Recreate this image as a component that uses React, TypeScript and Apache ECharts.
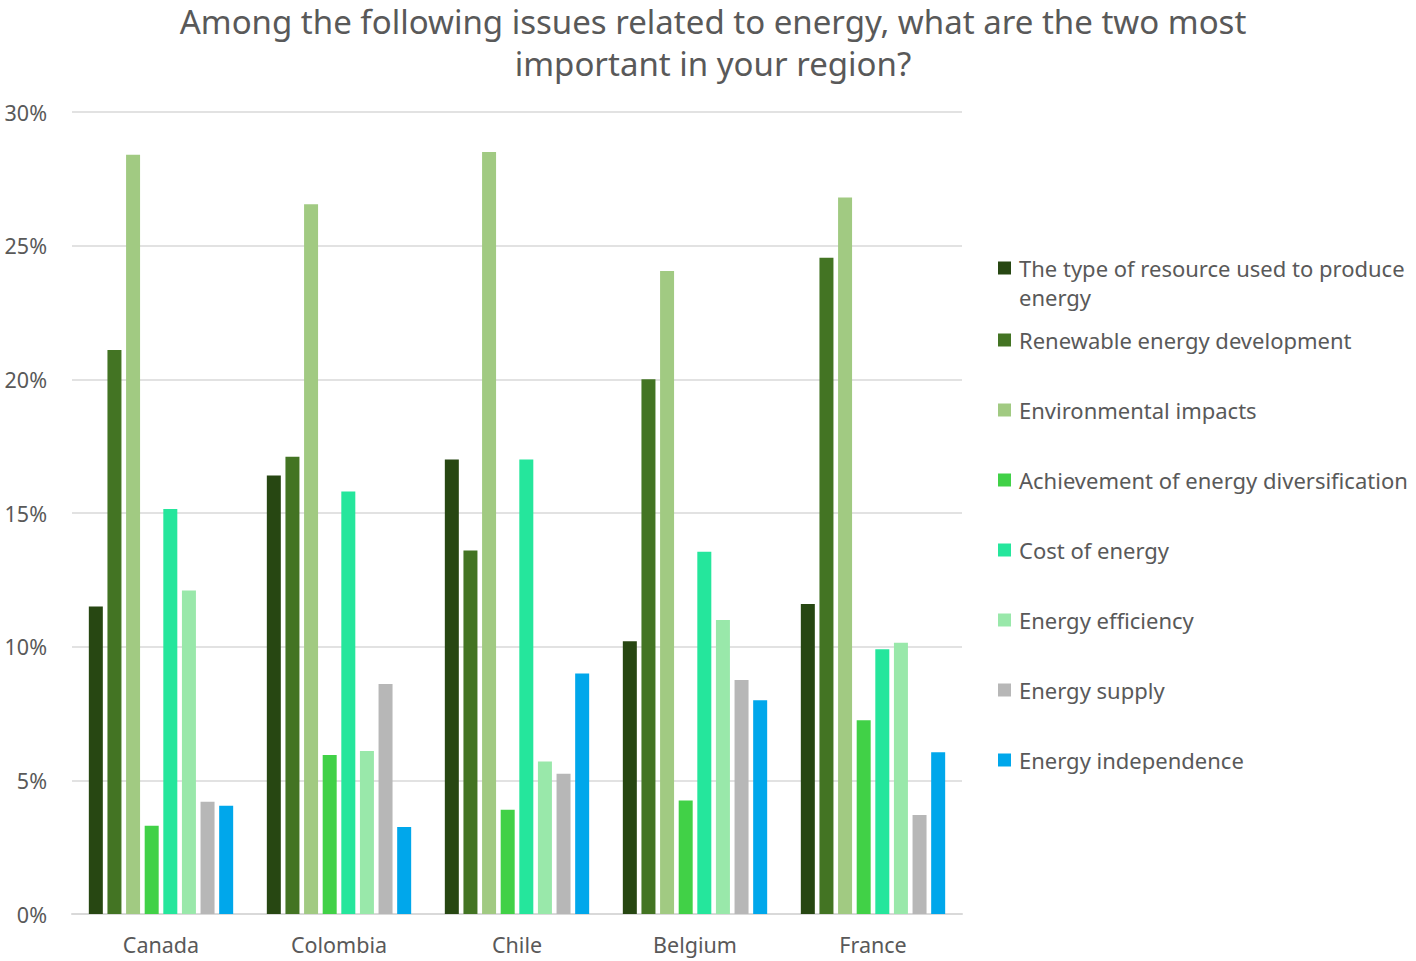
import React, { useEffect, useRef } from "react";
import * as echarts from "echarts";

const categories = ["Canada", "Colombia", "Chile", "Belgium", "France"];

const seriesNames = [
  "The type of resource used to produce energy",
  "Renewable energy development",
  "Environmental impacts",
  "Achievement of energy diversification",
  "Cost of energy",
  "Energy efficiency",
  "Energy supply",
  "Energy independence",
];

const resourceType = [11.5, 16.4, 17.0, 10.2, 11.6];
const renewable = [21.1, 17.1, 13.6, 20.0, 24.55];
const environmental = [28.4, 26.55, 28.5, 24.05, 26.8];
const diversification = [3.3, 5.95, 3.9, 4.25, 7.25];
const cost = [15.15, 15.8, 17.0, 13.55, 9.9];
const efficiency = [12.1, 6.1, 5.7, 11.0, 10.15];
const supply = [4.2, 8.6, 5.25, 8.75, 3.7];
const independence = [4.05, 3.25, 9.0, 8.0, 6.05];

const seriesValues = [
  resourceType,
  renewable,
  environmental,
  diversification,
  cost,
  efficiency,
  supply,
  independence,
];

const colors = [
  "#274712",
  "#437423",
  "#A1CA82",
  "#41D147",
  "#25E69C",
  "#99E8AA",
  "#B7B7B7",
  "#00A7EB",
];

const yTicks = { min: 0, max: 30, interval: 5 };

const titleText =
  "Among the following issues related to energy, what are the two most\nimportant in your region?";

const FONT = "'Noto Sans', 'Open Sans', sans-serif";
const TEXT_COLOR = "#595959";

export default function App() {
  const ref = useRef<HTMLDivElement>(null);

  useEffect(() => {
    if (!ref.current) return;
    const chart = echarts.init(ref.current, undefined, { renderer: "svg" });

    const legendText = {
      fontFamily: FONT,
      fontSize: 22,
      color: TEXT_COLOR,
      lineHeight: 29,
      padding: [0, 0, 0, 3],
    };

    chart.setOption({
      animation: false,
      backgroundColor: "#ffffff",
      color: colors,
      title: {
        text: titleText,
        left: 713,
        top: 0,
        textAlign: "center",
        padding: 0,
        textStyle: {
          fontFamily: FONT,
          fontSize: 33,
          fontWeight: "normal",
          color: TEXT_COLOR,
          lineHeight: 42,
        },
      },
      legend: [
        {
          data: [seriesNames[0]],
          orient: "vertical",
          left: 998,
          top: 268 - 43.5,
          padding: 0,
          icon: "rect",
          itemWidth: 13,
          itemHeight: 13,
          formatter: () => " \nThe type of resource used to produce\nenergy",
          textStyle: legendText,
        },
        {
          data: seriesNames.slice(1),
          orient: "vertical",
          left: 998,
          top: 340 - 14.5,
          padding: 0,
          itemGap: 41,
          icon: "rect",
          itemWidth: 13,
          itemHeight: 13,
          textStyle: legendText,
        },
      ],
      grid: {
        left: 72,
        right: 1416 - 962,
        top: 112,
        bottom: 961 - 914,
        containLabel: false,
      },
      xAxis: {
        type: "category",
        data: categories,
        axisTick: { show: false },
        axisLine: { lineStyle: { color: "#D9D9D9", width: 2 } },
        axisLabel: {
          fontFamily: FONT,
          fontSize: 21.5,
          color: TEXT_COLOR,
          margin: 19,
        },
      },
      yAxis: {
        type: "value",
        min: yTicks.min,
        max: yTicks.max,
        interval: yTicks.interval,
        axisLine: { show: false },
        axisTick: { show: false },
        splitLine: { lineStyle: { color: "#D9D9D9", width: 1.5 } },
        axisLabel: {
          fontFamily: FONT,
          fontSize: 21.5,
          color: TEXT_COLOR,
          margin: 25,
          formatter: "{value}%",
        },
      },
      series: seriesNames.map((name, i) => ({
        name,
        type: "bar",
        data: seriesValues[i],
        barWidth: 14,
        barGap: "33%",
        itemStyle: { color: colors[i] },
      })),
    });

    return () => chart.dispose();
  }, []);

  return (
    <div
      ref={ref}
      style={{ position: "fixed", left: 0, top: 0, width: 1416, height: 961 }}
    />
  );
}
